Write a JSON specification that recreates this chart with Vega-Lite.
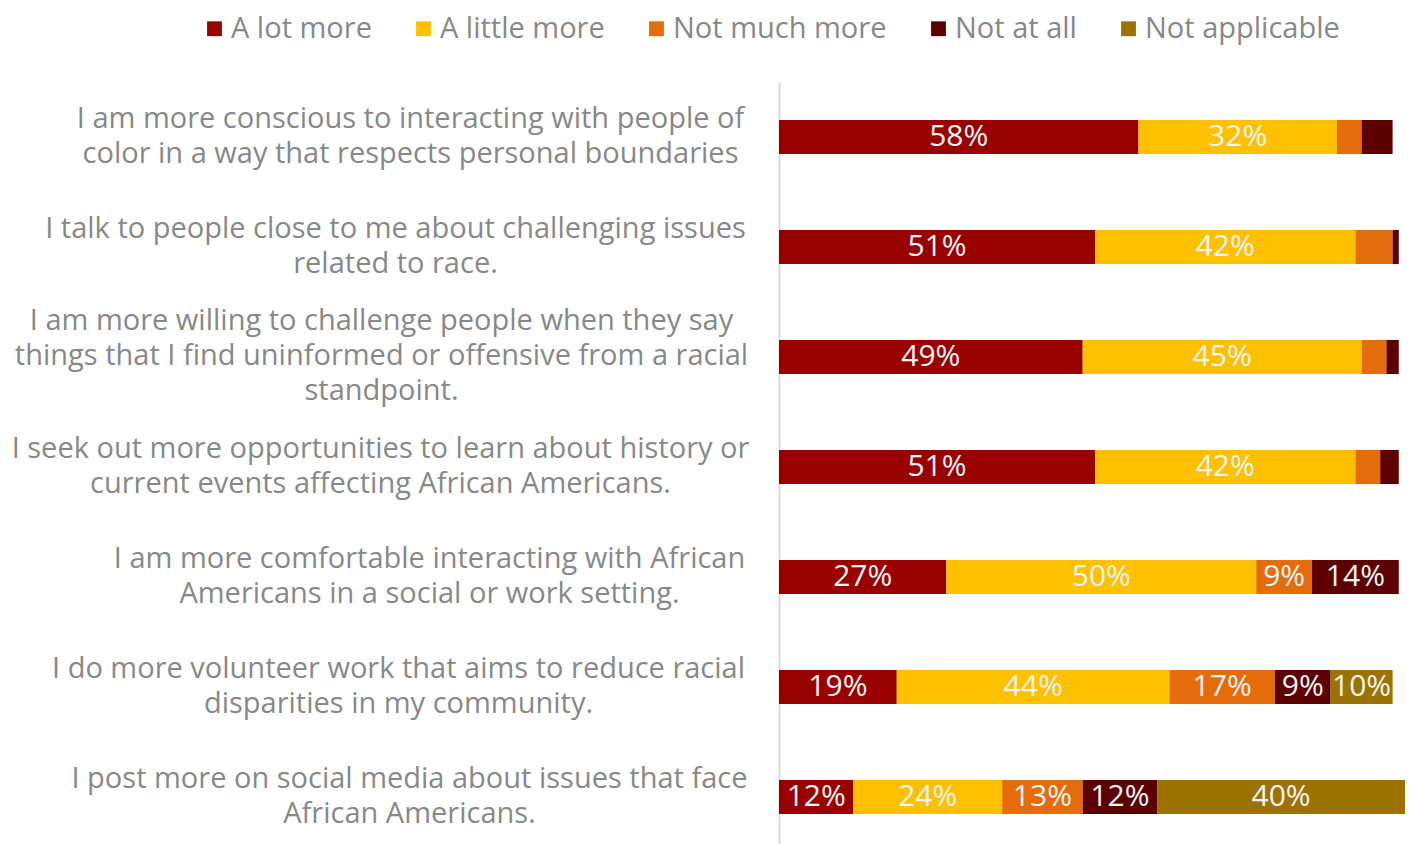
{
  "$schema": "https://vega.github.io/schema/vega-lite/v6.json",
  "autosize": {"type": "none"},
  "padding": {"left": 779, "top": 82, "right": 0, "bottom": 0},
  "width": 626,
  "height": 770,
  "background": "white",
  "config": {"view": {"stroke": null}, "font": "Open Sans"},
  "data": {"values": [
    {"q": "I am more conscious to interacting with people of|color in a way that respects personal boundaries", "r": "A lot more", "k": 1, "v": 0.58},
    {"q": "I am more conscious to interacting with people of|color in a way that respects personal boundaries", "r": "A little more", "k": 2, "v": 0.32},
    {"q": "I am more conscious to interacting with people of|color in a way that respects personal boundaries", "r": "Not much more", "k": 3, "v": 0.04},
    {"q": "I am more conscious to interacting with people of|color in a way that respects personal boundaries", "r": "Not at all", "k": 4, "v": 0.05},
    {"q": "I talk to people close to me about challenging issues|related to race.", "r": "A lot more", "k": 1, "v": 0.51},
    {"q": "I talk to people close to me about challenging issues|related to race.", "r": "A little more", "k": 2, "v": 0.42},
    {"q": "I talk to people close to me about challenging issues|related to race.", "r": "Not much more", "k": 3, "v": 0.06},
    {"q": "I talk to people close to me about challenging issues|related to race.", "r": "Not at all", "k": 4, "v": 0.01},
    {"q": "I am more willing to challenge people when they say|things that I find uninformed or offensive from a racial|standpoint.", "r": "A lot more", "k": 1, "v": 0.49},
    {"q": "I am more willing to challenge people when they say|things that I find uninformed or offensive from a racial|standpoint.", "r": "A little more", "k": 2, "v": 0.45},
    {"q": "I am more willing to challenge people when they say|things that I find uninformed or offensive from a racial|standpoint.", "r": "Not much more", "k": 3, "v": 0.04},
    {"q": "I am more willing to challenge people when they say|things that I find uninformed or offensive from a racial|standpoint.", "r": "Not at all", "k": 4, "v": 0.02},
    {"q": "I seek out more opportunities to learn about history or|current events affecting African Americans.", "r": "A lot more", "k": 1, "v": 0.51},
    {"q": "I seek out more opportunities to learn about history or|current events affecting African Americans.", "r": "A little more", "k": 2, "v": 0.42},
    {"q": "I seek out more opportunities to learn about history or|current events affecting African Americans.", "r": "Not much more", "k": 3, "v": 0.04},
    {"q": "I seek out more opportunities to learn about history or|current events affecting African Americans.", "r": "Not at all", "k": 4, "v": 0.03},
    {"q": "I am more comfortable interacting with African|Americans in a social or work setting.", "r": "A lot more", "k": 1, "v": 0.27},
    {"q": "I am more comfortable interacting with African|Americans in a social or work setting.", "r": "A little more", "k": 2, "v": 0.50},
    {"q": "I am more comfortable interacting with African|Americans in a social or work setting.", "r": "Not much more", "k": 3, "v": 0.09},
    {"q": "I am more comfortable interacting with African|Americans in a social or work setting.", "r": "Not at all", "k": 4, "v": 0.14},
    {"q": "I do more volunteer work that aims to reduce racial|disparities in my community.", "r": "A lot more", "k": 1, "v": 0.19},
    {"q": "I do more volunteer work that aims to reduce racial|disparities in my community.", "r": "A little more", "k": 2, "v": 0.44},
    {"q": "I do more volunteer work that aims to reduce racial|disparities in my community.", "r": "Not much more", "k": 3, "v": 0.17},
    {"q": "I do more volunteer work that aims to reduce racial|disparities in my community.", "r": "Not at all", "k": 4, "v": 0.09},
    {"q": "I do more volunteer work that aims to reduce racial|disparities in my community.", "r": "Not applicable", "k": 5, "v": 0.10},
    {"q": "I post more on social media about issues that face|African Americans.", "r": "A lot more", "k": 1, "v": 0.12},
    {"q": "I post more on social media about issues that face|African Americans.", "r": "A little more", "k": 2, "v": 0.24},
    {"q": "I post more on social media about issues that face|African Americans.", "r": "Not much more", "k": 3, "v": 0.13},
    {"q": "I post more on social media about issues that face|African Americans.", "r": "Not at all", "k": 4, "v": 0.12},
    {"q": "I post more on social media about issues that face|African Americans.", "r": "Not applicable", "k": 5, "v": 0.40}
  ]},
  "transform": [
    {"stack": "v", "groupby": ["q"], "sort": [{"field": "k"}], "as": ["v0", "v1"]},
    {"calculate": "(datum.v0 + datum.v1) / 2", "as": "mid"}
  ],
  "encoding": {
    "y": {
      "field": "q", "type": "nominal", "sort": null,
      "scale": {"paddingInner": 0.69, "paddingOuter": 0.345},
      "axis": {
        "title": null, "ticks": false, "labelExpr": "split(datum.label, '|')",
        "labelFontSize": 29, "labelLineHeight": 35, "labelColor": "#888888",
        "labelBaseline": "middle", "labelAlign": "center",
        "labelOffset": {
          "condition": {"test": "datum.value == 'I am more willing to challenge people when they say|things that I find uninformed or offensive from a racial|standpoint.'", "value": -36},
          "value": -18
        },
        "labelPadding": {
          "condition": [
            {"test": "datum.value == 'I am more conscious to interacting with people of|color in a way that respects personal boundaries'", "value": 369},
            {"test": "datum.value == 'I talk to people close to me about challenging issues|related to race.'", "value": 384},
            {"test": "datum.value == 'I am more willing to challenge people when they say|things that I find uninformed or offensive from a racial|standpoint.'", "value": 398},
            {"test": "datum.value == 'I seek out more opportunities to learn about history or|current events affecting African Americans.'", "value": 399},
            {"test": "datum.value == 'I am more comfortable interacting with African|Americans in a social or work setting.'", "value": 350},
            {"test": "datum.value == 'I do more volunteer work that aims to reduce racial|disparities in my community.'", "value": 381}
          ],
          "value": 370
        },
        "labelLimit": 900, "labelFont": "Open Sans",
        "domainColor": "#d9d9d9", "domainWidth": 2
      }
    }
  },
  "layer": [
    {
      "mark": {"type": "bar"},
      "encoding": {
        "x": {"field": "v0", "type": "quantitative", "scale": {"domain": [0, 1.01], "nice": false}, "axis": null},
        "x2": {"field": "v1"},
        "color": {
          "field": "r", "type": "nominal",
          "scale": {
            "domain": ["A lot more", "A little more", "Not much more", "Not at all", "Not applicable"],
            "range": ["#990000", "#FFC000", "#E46C0A", "#5C0000", "#9C7200"]
          },
          "legend": {
            "title": null, "orient": "none", "direction": "horizontal",
            "legendX": -579, "legendY": -68,
            "symbolType": "square", "symbolSize": 220, "symbolStrokeWidth": 0,
            "labelFontSize": 29, "labelColor": "#888888", "labelFont": "Open Sans",
            "labelOffset": 2, "columnPadding": 37, "labelLimit": 500
          }
        }
      }
    },
    {
      "transform": [{"filter": "datum.v >= 0.08"}],
      "mark": {"type": "text", "color": "#f4f4f4", "fontSize": 30, "font": "Open Sans", "baseline": "middle", "align": "center"},
      "encoding": {
        "x": {"field": "mid", "type": "quantitative"},
        "text": {"field": "v", "type": "quantitative", "format": ".0%"}
      }
    }
  ]
}
